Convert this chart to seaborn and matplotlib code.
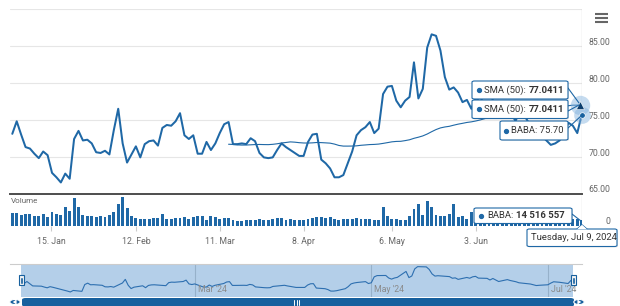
import numpy as np
import pandas as pd
import matplotlib
matplotlib.use("Agg")
import matplotlib.pyplot as plt
import seaborn as sns
from matplotlib import transforms
from matplotlib.patches import FancyBboxPatch, Rectangle, Circle, Polygon
from matplotlib.lines import Line2D

# ---------------- data ----------------
holidays = ["2024-01-15", "2024-02-19", "2024-03-29", "2024-05-27", "2024-06-19", "2024-07-04"]
dates = pd.bdate_range("2024-01-02", "2024-07-09", freq="C", holidays=holidays)

price = [
    73.1, 74.8, 73.0, 71.3, 71.1, 70.4, 69.8, 70.7, 70.2, 67.8,
    67.2, 66.5, 67.7, 67.0, 72.4, 73.5, 72.2, 72.3, 71.8, 70.6,
    70.5, 70.8, 70.3, 73.6, 76.5, 71.8, 69.2, 70.3, 71.4, 69.9,
    71.7, 72.1, 72.2, 71.5, 73.9, 74.3, 74.2, 74.8, 75.9, 72.9,
    72.4, 72.9, 70.4, 70.4, 72.0, 70.9, 71.8, 73.2, 74.4, 74.7,
    71.7, 71.7, 71.8, 71.7, 72.5, 72.1, 70.5, 69.9, 69.8, 69.9,
    70.9, 71.8, 71.3, 70.9, 70.5, 70.1, 70.1, 72.0, 73.0, 73.1,
    69.6, 69.1, 68.4, 67.2, 67.2, 67.5, 69.1, 70.7, 72.9, 73.6,
    74.0, 74.7, 73.2, 73.8, 78.5, 79.5, 79.6, 77.6, 76.7, 77.6,
    78.1, 82.8, 77.9, 79.2, 84.8, 86.6, 86.4, 84.4, 80.8, 79.1,
    79.4, 78.7, 77.4, 77.7, 76.5, 78.0, 77.4, 78.5, 78.9, 77.5,
    77.3, 76.0, 77.2, 76.0, 74.8, 76.3, 75.6, 74.6, 73.8, 73.0,
    72.8, 72.2, 71.6, 71.8, 72.2, 73.5, 74.6, 74.2, 73.2, 75.70,
]

volume_m = [
    30.4, 32.0, 26.4, 28.0, 28.0, 24.8, 24.0, 28.8, 20.8, 34.4,
    29.6, 26.4, 44.8, 36.8, 68.0, 46.4, 26.4, 24.0, 22.4, 21.6,
    22.4, 20.0, 26.4, 34.4, 52.8, 70.4, 42.4, 24.0, 18.4, 16.8,
    16.8, 16.0, 19.2, 19.2, 28.8, 16.8, 16.8, 18.4, 18.4, 20.8,
    15.2, 20.0, 23.2, 24.8, 14.4, 24.8, 20.0, 16.8, 17.6, 18.4,
    12.8, 11.2, 12.0, 14.4, 14.4, 14.4, 16.8, 14.4, 14.4, 16.8,
    18.4, 18.4, 13.6, 15.2, 14.4, 12.8, 14.4, 16.0, 18.4, 20.8,
    20.0, 18.4, 20.0, 16.8, 12.8, 16.0, 16.8, 16.8, 18.4, 16.0,
    16.0, 16.8, 14.4, 14.4, 46.4, 24.8, 16.8, 16.0, 14.4, 12.8,
    22.4, 40.8, 54.4, 26.4, 60.0, 44.8, 26.4, 22.4, 24.8, 28.0,
    52.8, 20.8, 24.8, 16.8, 32.8, 22.0, 19.0, 17.0, 20.0, 16.0,
    18.0, 15.0, 17.0, 19.0, 14.0, 16.0, 15.0, 21.0, 14.0, 13.0,
    15.0, 14.0, 16.0, 13.0, 14.0, 17.0, 16.0, 15.0, 17.0, 14.516557,
]

sma_window = 50
sma_tooltip_value = "77.0411"
ticker = "BABA"

price_tick_values = [65, 70, 75, 80, 85]
price_grid_values = [65, 70, 75, 80, 85, 90]
x_tick_dates = ["2024-01-15", "2024-02-12", "2024-03-11", "2024-04-08", "2024-05-06", "2024-06-03"]
x_tick_labels = ["15. Jan", "12. Feb", "11. Mar", "8. Apr", "6. May", "3. Jun"]
nav_month_dates = ["2024-03-01", "2024-05-01", "2024-07-01"]
nav_month_labels = ["Mar '24", "May '24", "Jul '24"]
crosshair_label = "Tuesday, Jul 9, 2024"

# ---------------- style ----------------
sns.set_style("white")
plt.rcParams["font.family"] = ["Roboto", "DejaVu Sans"]

BLUE = "#1f68a6"
DARK_BLUE = "#17609e"
GRID = "#e6e6e6"
LABEL = "#666666"
TXT = "#333333"
W, H = 620, 306

idx = np.arange(len(dates))
df = pd.DataFrame({"date": dates, "i": idx, "price": price, "volume": volume_m})
df["sma"] = df["price"].rolling(sma_window).mean()
sma_df = df.dropna(subset=["sma"])

fig = plt.figure(figsize=(W / 100, H / 100), dpi=100)
fig.patch.set_facecolor("white")


def rect(x0, y0, x1, y1):
    return [x0 / W, 1 - y1 / H, (x1 - x0) / W, (y1 - y0) / H]


def fx(x):
    return x / W


def fy(y):
    return 1 - y / H


ax_p = fig.add_axes(rect(10, 9.3, 582, 193.5))
ax_v = fig.add_axes(rect(10, 194.5, 582, 225.5))
ax_n = fig.add_axes(rect(10, 264, 582, 297))
for a in (ax_p, ax_v, ax_n):
    a.set_facecolor("none")
    for s in a.spines.values():
        s.set_visible(False)

XL = (-0.52, 129.07)

# ---- price panel ----
for g in price_grid_values:
    ax_p.axhline(g, color=GRID, lw=0.8, zorder=0)
ax_p.axvline(idx[-1], color="#cccccc", lw=0.9, zorder=1)
sns.lineplot(data=df, x="i", y="price", ax=ax_p, color=BLUE, lw=1.45, zorder=3)
sns.lineplot(data=sma_df, x="i", y="sma", ax=ax_p, color=BLUE, lw=0.8, zorder=2)
ax_p.set_xlim(*XL)
ax_p.set_ylim(65, 90)
ax_p.set_xticks([])
ax_p.set_yticks([])
ax_p.set_xlabel("")
ax_p.set_ylabel("")
ax_p.spines["bottom"].set_visible(True)
ax_p.spines["bottom"].set_color("#4d4d4d")
ax_p.spines["bottom"].set_linewidth(1.4)

lab_tr = transforms.offset_copy(
    transforms.blended_transform_factory(fig.transFigure, ax_p.transData), fig=fig, y=3.5, units="dots")
for v in price_tick_values:
    ax_p.text(fx(610), v, f"{v:.2f}", transform=lab_tr, ha="right", va="center",
              fontsize=6.3, color=LABEL)

# end markers with halo
ax_p.plot(idx[-1] - 0.4, df["sma"].iloc[-1], marker="o", ms=14, color="#7fb0dc", alpha=0.45,
          clip_on=False, zorder=5, mec="none")
ax_p.plot(idx[-1] - 0.4, df["sma"].iloc[-1], marker="^", ms=5.5, color="#0d3f6e",
          clip_on=False, zorder=6, mec="white", mew=0.4)
ax_p.plot(idx[-1], df["price"].iloc[-1], marker="o", ms=12, color="#7fb0dc", alpha=0.45,
          clip_on=False, zorder=5, mec="none")
ax_p.plot(idx[-1], df["price"].iloc[-1], marker="o", ms=4, color=DARK_BLUE,
          clip_on=False, zorder=6, mec="white", mew=0.5)

# ---- volume panel ----
ax_v.axvline(idx[-1], color="#cccccc", lw=0.9, zorder=0)
ax_v.bar(df["i"], df["volume"], width=0.66, color=BLUE, linewidth=0, zorder=2)
ax_v.set_xlim(*XL)
ax_v.set_ylim(0, 77)
ax_v.set_xlabel("")
ax_v.set_ylabel("")
ax_v.set_yticks([])
tick_pos = np.interp(pd.to_datetime(x_tick_dates).values.astype("int64"),
                     dates.values.astype("int64"), idx)
ax_v.set_xticks(tick_pos)
ax_v.set_xticklabels(x_tick_labels)
ax_v.tick_params(axis="x", bottom=True, length=3.5, width=0.8, color="#cccccc",
                 labelsize=6.3, labelcolor=LABEL, pad=4.5)
vlab_tr = transforms.offset_copy(
    transforms.blended_transform_factory(fig.transFigure, ax_v.transData), fig=fig, y=3.5, units="dots")
ax_v.text(fx(610), 0, "0", transform=vlab_tr, ha="right", va="center", fontsize=6.3, color=LABEL)
fig.text(fx(10.5), fy(201), "Volume", fontsize=5.8, color=LABEL, va="center", ha="left")

# ---- navigator ----
d0, d1 = dates[0], dates[-1]
ax_n.set_xlim(d0 - pd.Timedelta(days=4.84), d1 + pd.Timedelta(days=3.8))
ax_n.set_ylim(62.5, 88.7)
for d, lab in zip(nav_month_dates, nav_month_labels):
    ax_n.axvline(pd.Timestamp(d), color="#d0d0d0", lw=0.8, zorder=0)
    ax_n.text(pd.Timestamp(d), 0.22, lab, transform=transforms.offset_copy(
        ax_n.get_xaxis_transform(), fig=fig, x=3, units="dots"),
        fontsize=6.3, color="#8a8a8a", ha="left", va="center", zorder=4)
ax_n.axvspan(d0 - pd.Timedelta(days=1.04), d1 + pd.Timedelta(days=0.7),
             color="#2a78c0", alpha=0.35, lw=0, zorder=1)
sns.lineplot(data=df, x="date", y="price", ax=ax_n, color="#2d6fb0", lw=0.8, zorder=3)
ax_n.set_xticks([])
ax_n.set_yticks([])
ax_n.set_xlabel("")
ax_n.set_ylabel("")
ax_n.spines["top"].set_visible(True)
ax_n.spines["top"].set_color("#cccccc")
ax_n.spines["top"].set_linewidth(0.8)

# navigator handles
for hx in (18.5, 570.5):
    fig.add_artist(Rectangle((fx(hx), fy(285)), 5.5 / W, 10 / H, transform=fig.transFigure,
                             facecolor="#f4f4f4", edgecolor=DARK_BLUE, lw=0.8, zorder=5))
    for dx in (2.0, 3.5):
        fig.add_artist(Line2D([fx(hx + dx), fx(hx + dx)], [fy(277.5), fy(282.5)],
                              transform=fig.transFigure, color=DARK_BLUE, lw=0.6, zorder=6))

# scrollbar
fig.add_artist(FancyBboxPatch((fx(22), fy(306.5)), 552 / W, 8.5 / H,
                              boxstyle="round,pad=0,rounding_size=0.006",
                              transform=fig.transFigure, facecolor=DARK_BLUE, edgecolor="none", zorder=5))
for cx, direction in ((15, -1), (579, 1)):
    fig.add_artist(Circle((fx(cx), fy(302)), 5.2 / W, transform=fig.transFigure,
                          facecolor=DARK_BLUE, edgecolor="white", lw=0.8, zorder=6))
    tri = [(fx(cx + 2.2 * direction), fy(302)), (fx(cx - 1.6 * direction), fy(299.3)),
           (fx(cx - 1.6 * direction), fy(304.7))]
    fig.add_artist(Polygon(tri, closed=True, transform=fig.transFigure, facecolor="white",
                           edgecolor="none", zorder=7))
for gx in (294, 296.5, 299):
    fig.add_artist(Line2D([fx(gx), fx(gx)], [fy(300), fy(304.5)], transform=fig.transFigure,
                          color="white", lw=0.7, zorder=7))

# menu icon
for my in (14, 18, 22):
    fig.add_artist(Line2D([fx(595), fx(608)], [fy(my), fy(my)], transform=fig.transFigure,
                          color="#666666", lw=1.5, zorder=7, solid_capstyle="butt"))

# ---------------- tooltips ----------------
renderer = fig.canvas.get_renderer()


def tip_box(x0, y0, x1, y1):
    fig.add_artist(FancyBboxPatch((fx(x0 + 1), fy(y1 + 1)), (x1 - x0) / W, (y1 - y0) / H,
                                  boxstyle="round,pad=0,rounding_size=0.004",
                                  transform=fig.transFigure, facecolor="#000000", alpha=0.08,
                                  edgecolor="none", zorder=8))
    fig.add_artist(FancyBboxPatch((fx(x0), fy(y1)), (x1 - x0) / W, (y1 - y0) / H,
                                  boxstyle="round,pad=0,rounding_size=0.004",
                                  transform=fig.transFigure, facecolor="white",
                                  edgecolor=BLUE, lw=0.8, zorder=9))


def tip_text(x, y, pieces, dot_x=None, size=6.8):
    if dot_x is not None:
        fig.add_artist(Line2D([fx(dot_x)], [fy(y)], marker="o", ms=2.8, color=BLUE,
                              transform=fig.transFigure, zorder=10))
    cx = x
    for s, weight in pieces:
        t = fig.text(fx(cx), fy(y), s, fontsize=size, fontweight=weight, color=TXT,
                     ha="left", va="center", zorder=10)
        cx += t.get_window_extent(renderer).width + 2.6


def tail(points):
    xs = [fx(p[0]) for p in points]
    ys = [fy(p[1]) for p in points]
    fig.add_artist(Line2D(xs, ys, transform=fig.transFigure, color=BLUE, lw=0.8, zorder=8))


tail([(568, 88), (579, 103)])
tail([(568, 111), (579, 105)])
tail([(568, 128), (581, 116)])
tail([(572, 214), (581, 221)])

for (y0, y1) in ((81, 99), (100, 118.5)):
    tip_box(472, y0, 568, y1)
    tip_text(484, (y0 + y1) / 2, [(f"SMA ({sma_window}):", "normal"), (sma_tooltip_value, "bold")],
             dot_x=478.5)

tip_box(500, 121, 568, 140)
tip_text(511, 130.5, [(f"{ticker}: {df['price'].iloc[-1]:.2f}", "normal")], dot_x=505.5)

vol_last = int(round(df["volume"].iloc[-1] * 1e6))
tip_box(474, 208, 572, 223.5)
tip_text(487, 216, [(f"{ticker}:", "normal"), (f"{vol_last:,}".replace(",", " "), "bold")],
         dot_x=481)

tip_box(527, 229, 617, 246.5)
fig.add_artist(Polygon([(fx(577), fy(229.3)), (fx(582), fy(224.8)), (fx(587), fy(229.3))],
                       closed=True, transform=fig.transFigure, facecolor="white",
                       edgecolor="none", zorder=10))
tail([(577, 229), (582, 224.8), (587, 229)])
fig.text(fx(531), fy(237.5), crosshair_label, fontsize=6.8, color=TXT, ha="left", va="center",
         zorder=11)

fig.savefig("out.png", dpi=100, facecolor=fig.get_facecolor())
